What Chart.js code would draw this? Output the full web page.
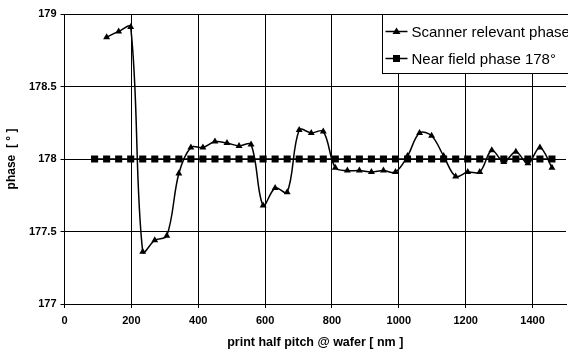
<!DOCTYPE html>
<html>
<head>
<meta charset="utf-8">
<script src="https://cdn.jsdelivr.net/npm/chart.js@4"></script>
<style>
  html, body { margin: 0; padding: 0; background: #fff; overflow: hidden; }
  #wrap { width: 571px; height: 354px; }
</style>
</head>
<body>
<div id="wrap"><canvas id="myChart" width="571" height="354"></canvas></div>
<script>
// half pitch values (nm)
let pitchNear = [];
for (let i = 0; i <= 38; i++) pitchNear.push(90 + 36 * i);
let pitchScanner = pitchNear.slice(1);

let scannerPhase = [178.84, 178.88, 178.91, 177.36, 177.44, 177.47, 177.90, 178.08, 178.08, 178.12,
    178.11, 178.09, 178.10, 177.68, 177.80, 177.77, 178.20, 178.18, 178.19, 177.94,
    177.92, 177.92, 177.91, 177.92, 177.91, 178.02, 178.18, 178.16, 178.02, 177.88,
    177.91, 177.91, 178.06, 177.98, 178.05, 177.97, 178.08, 177.94];
let nearPhase = pitchNear.map(() => 178);

let seriesLabels = ['Scanner relevant phase', 'Near field phase 178°'];
let xTicks = [0, 200, 400, 600, 800, 1000, 1200, 1400];
let yTicks = [177, 177.5, 178, 178.5, 179];

const font = 'Liberation Sans, Arial, sans-serif';

// legend drawn in a box at top right, like the original
const boxLegend = {
    id: 'boxLegend',
    afterDraw(chart) {
        const ctx = chart.ctx;
        const x0 = 382.5, y0 = 14.5, w = 200, h = 59;
        ctx.save();
        ctx.fillStyle = '#fff';
        ctx.fillRect(x0, y0, w, h);
        ctx.strokeStyle = '#000';
        ctx.lineWidth = 1;
        ctx.strokeRect(x0, y0, w, h);
        ctx.font = '15px ' + font;
        ctx.textBaseline = 'middle';
        const rows = [y0 + 17, y0 + 44];
        chart.data.datasets.forEach((ds, i) => {
            const y = rows[i];
            ctx.strokeStyle = '#000';
            ctx.lineWidth = 1.5;
            ctx.beginPath();
            ctx.moveTo(x0 + 3, y);
            ctx.lineTo(x0 + 25, y);
            ctx.stroke();
            ctx.fillStyle = '#000';
            const cx = x0 + 14;
            if (ds.pointStyle === 'triangle') {
                ctx.beginPath();
                ctx.moveTo(cx, y - 4);
                ctx.lineTo(cx + 4, y + 2.5);
                ctx.lineTo(cx - 4, y + 2.5);
                ctx.closePath();
                ctx.fill();
            } else {
                ctx.fillRect(cx - 3.5, y - 3.5, 7, 7);
            }
            ctx.fillText(ds.label, x0 + 29, y + 1);
        });
        ctx.restore();
    }
};

let myChart = document.getElementById('myChart').getContext('2d');

let chart = new Chart(myChart, {
    type: 'line',
    data: {
        datasets: [{
            label: seriesLabels[0],
            data: pitchScanner.map((x, i) => ({ x: x, y: scannerPhase[i] })),
            borderColor: '#000',
            backgroundColor: '#000',
            borderWidth: 1.5,
            pointStyle: 'triangle',
            pointRadius: 4,
            pointBorderWidth: 0,
            tension: 0.35,
            fill: false
        }, {
            label: seriesLabels[1],
            data: pitchNear.map((x, i) => ({ x: x, y: nearPhase[i] })),
            borderColor: '#000',
            backgroundColor: '#000',
            borderWidth: 1.5,
            pointStyle: 'rect',
            pointRadius: 5,
            pointBorderWidth: 0,
            tension: 0,
            fill: false
        }]
    },
    options: {
        responsive: false,
        animation: false,
        layout: { padding: { top: 14, right: 0, left: 0, bottom: 0 } },
        plugins: {
            legend: { display: false },
            tooltip: { enabled: false }
        },
        scales: {
            x: {
                type: 'linear',
                min: 0,
                max: 1500,
                afterBuildTicks(scale) {
                    scale.ticks = xTicks.map(v => ({ value: v }));
                },
                afterFit(scale) { scale.height = 50; },
                grid: { color: '#000', lineWidth: 1, tickLength: 4, drawOnChartArea: true },
                border: { color: '#000', width: 1 },
                ticks: {
                    color: '#000',
                    font: { family: font, size: 11, weight: 'bold' },
                    padding: 6,
                    maxRotation: 0,
                    callback: v => String(v)
                },
                title: {
                    display: true,
                    text: 'print half pitch @ wafer [ nm ]',
                    color: '#000',
                    font: { family: font, size: 12.5, weight: 'bold' },
                    padding: { top: 1 }
                }
            },
            y: {
                min: 177,
                max: 179,
                afterBuildTicks(scale) {
                    scale.ticks = yTicks.map(v => ({ value: v }));
                },
                afterFit(scale) { scale.width = 64.5; },
                grid: { color: '#000', lineWidth: 1, tickLength: 4 },
                border: { color: '#000', width: 1 },
                ticks: {
                    color: '#000',
                    font: { family: font, size: 11, weight: 'bold' },
                    padding: 4,
                    callback: v => String(v)
                },
                title: {
                    display: true,
                    text: 'phase  [ ° ]',
                    color: '#000',
                    font: { family: font, size: 12, weight: 'bold' },
                    padding: { bottom: 4 }
                }
            }
        }
    },
    plugins: [boxLegend]
});
</script>
</body>
</html>
